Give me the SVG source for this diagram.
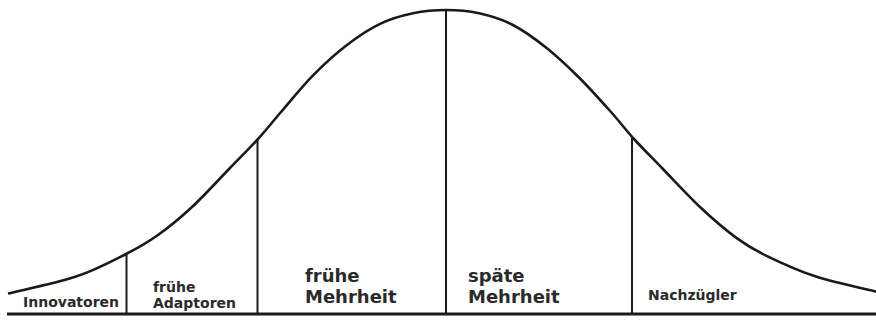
<svg xmlns="http://www.w3.org/2000/svg" width="876" height="320" viewBox="0 0 876 320">
<style>
.ln{stroke:#1a1a1a;fill:none;stroke-linecap:butt}
.t{font-family:"DejaVu Sans",sans-serif;font-weight:bold;fill:#2a2a2a}
.s{font-size:14px}
.b{font-size:18px}
</style>
<rect width="876" height="320" fill="#ffffff"/>
<g id="connectors">
<path class="ln" stroke-width="2.6" d="M8,293.6 C19.33,290.77 56.33,283.2 76,276.6 C95.67,270 112.33,260.93 126,254 C139.67,247.07 147,242.83 158,235 C169,227.17 180,218.17 192,207 C204,195.83 219,179.33 230,168 C241,156.67 249.5,148.33 258,139 C266.5,129.67 271.83,122.6 281,112 C290.17,101.4 302.17,86.45 313,75.4 C323.83,64.35 334.83,54.28 346,45.7 C357.17,37.12 368.83,29.3 380,23.9 C391.17,18.5 402,15.62 413,13.3 C424,10.98 435,10 446,10 C457,10 468,10.88 479,13.3 C490,15.72 500.83,18.8 512,24.5 C523.17,30.2 534.83,38.67 546,47.5 C557.17,56.33 568.17,66.75 579,77.5 C589.83,88.25 601.83,101.75 611,112 C620.17,122.25 625.5,129.67 634,139 C642.5,148.33 651,156.67 662,168 C673,179.33 687.67,195.4 700,207 C712.33,218.6 725,229.5 736,237.6 C747,245.7 752.67,249.1 766,255.6 C779.33,262.1 797.67,270.6 816,276.6 C834.33,282.6 866,289.1 878,292"/>
<line class="ln" stroke-width="3" x1="7" y1="314" x2="876" y2="314"/>
<line class="ln" stroke-width="2" x1="126.5" y1="253" x2="126.5" y2="314"/>
<line class="ln" stroke-width="2" x1="257.5" y1="140" x2="257.5" y2="314"/>
<line class="ln" stroke-width="2" x1="446" y1="10" x2="446" y2="314"/>
<line class="ln" stroke-width="2" x1="632" y1="138" x2="632" y2="314"/>
</g>
<g id="innovatoren"><text class="t s" x="23" y="307">Innovatoren</text></g>
<g id="fruehe-adaptoren"><text class="t s" x="153" y="292">frühe</text><text class="t s" x="153" y="308">Adaptoren</text></g>
<g id="fruehe-mehrheit"><text class="t b" x="305" y="282">frühe</text><text class="t b" x="305" y="303">Mehrheit</text></g>
<g id="spaete-mehrheit"><text class="t b" x="468" y="282">späte</text><text class="t b" x="468" y="303">Mehrheit</text></g>
<g id="nachzuegler"><text class="t s" x="648" y="300">Nachzügler</text></g>
</svg>
